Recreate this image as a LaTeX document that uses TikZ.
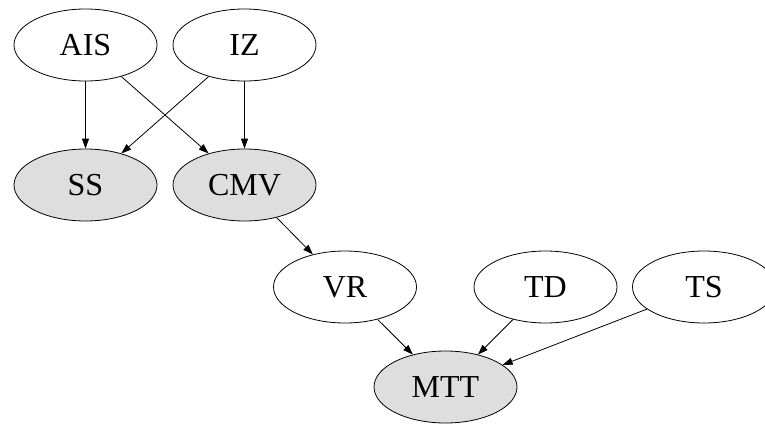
\documentclass[tikz,border=0pt]{standalone}
\usepackage{fontspec}
\setmainfont{Liberation Serif}
\usetikzlibrary{arrows.meta,shapes.geometric}
\definecolor{obsfill}{HTML}{DEDEDE}
\begin{document}
\begin{tikzpicture}[x=1pt,y=-1pt,
  var/.style={ellipse,draw,line width=0.8pt,minimum width=143pt,minimum height=72pt,
    inner sep=0pt,font=\fontsize{32}{36}\selectfont},
  observed/.style={var,fill=obsfill},
  edge/.style={draw,line width=0.8pt,-{Triangle[length=10pt,width=7pt]}}]
\useasboundingbox (0,0) rectangle (765,423);
% latent causes
\node[var] (ais) at (85.5,45) {AIS};
\node[var] (iz) at (244.5,45) {IZ};
% observed symptoms
\node[observed] (ss) at (85.5,185) {SS};
\node[observed] (cmv) at (244.5,185) {CMV};
% lower layer
\node[var] (vr) at (345,287) {VR};
\node[var] (td) at (545.5,287) {TD};
\node[var] (ts) at (704,287) {TS};
\node[observed] (mtt) at (445.5,387) {MTT};
% dependencies
\draw[edge] (ais) -- (ss);
\draw[edge] (ais) -- (cmv);
\draw[edge] (iz) -- (ss);
\draw[edge] (iz) -- (cmv);
\draw[edge] (cmv) -- (vr);
\draw[edge] (vr) -- (mtt);
\draw[edge] (td) -- (mtt);
\draw[edge] (ts) -- (mtt);
\end{tikzpicture}
\end{document}
